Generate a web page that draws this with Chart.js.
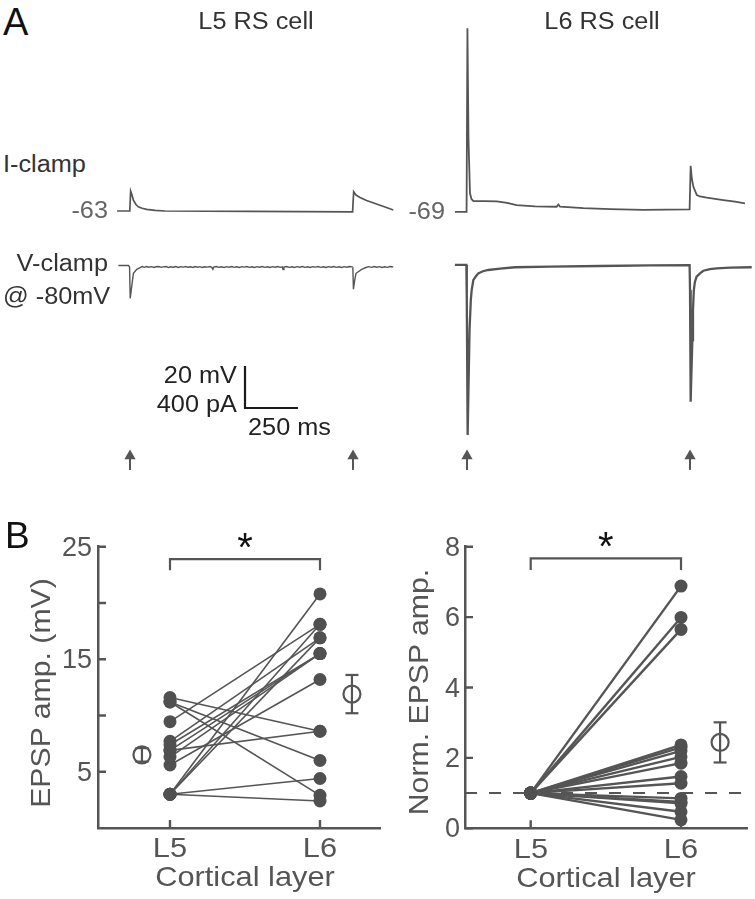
<!DOCTYPE html>
<html>
<head>
<meta charset="utf-8">
<script src="https://cdn.jsdelivr.net/npm/chart.js@4.4.1/dist/chart.umd.min.js"></script>
<style>
  html, body { margin: 0; padding: 0; background: #fff; }
  #fig { position: relative; width: 755px; height: 899px; overflow: hidden; font-family: "Liberation Sans", Arial, sans-serif; }
  #fig canvas { position: absolute; }
  .lbl { position: absolute; white-space: nowrap; line-height: 1; }
</style>
</head>
<body>
<div id="fig">
  <canvas id="chart__l5" width="300" height="480" style="left:100px;top:0px"></canvas>
  <canvas id="chart__l6" width="315" height="480" style="left:440px;top:0px"></canvas>
  <canvas id="chart__amp" width="330" height="345" style="left:60px;top:500px"></canvas>
  <canvas id="chart__norm" width="330" height="345" style="left:425px;top:500px"></canvas>
</div>
<script>
"use strict";

// ---- panel A: example traces, [time ms from 1st stimulus, value] ----
const stimTimes = [0, 1052];
const l5Iclamp = [[-61, -63.0], [-1, -63.0], [3, -53.5], [8, -54.9], [16, -57.8], [28, -59.9], [39, -61.0], [57, -61.7],
  [79, -62.2], [118, -62.7], [165, -63.0], [566, -63.2], [1050, -63.4], [1055, -53.8], [1066, -55.4], [1085, -56.6],
  [1116, -58.0], [1156, -59.4], [1203, -61.1], [1242, -62.5]];
const l5Vclamp = [[-55, 14], [-7, 14], [-2, 0], [1, -298], [6, -219], [16, -60], [32, -22], [47, -5], [58, 4], [66, -3],
  [79, 5], [88, -2], [101, 3], [113, -4], [122, 2], [136, 5], [147, -3], [155, 1], [171, 4], [182, -5], [190, 2],
  [205, -2], [214, 4], [229, -4], [238, 3], [251, -1], [263, 5], [271, -3], [286, 2], [297, -4], [306, 4], [319, -2],
  [331, 3], [340, -5], [352, 2], [365, -1], [377, 4], [386, -3], [391, -22], [395, -1], [408, 4], [419, -3], [430, 2],
  [444, -4], [455, 3], [467, -2], [480, 5], [491, -3], [503, 2], [516, -4], [527, 3], [540, -1], [551, 4], [563, -3],
  [575, 2], [588, -5], [599, 3], [611, -2], [624, 4], [636, -3], [648, 2], [660, -4], [672, 3], [684, -2], [697, 4],
  [709, -3], [718, 1], [722, -24], [726, 0], [739, 4], [751, -3], [764, 2], [776, -4], [788, 3], [801, -2], [813, 5],
  [825, -3], [838, 2], [850, -4], [862, 3], [875, -1], [887, 4], [899, -3], [912, 2], [924, -4], [936, 3], [949, -2],
  [961, 4], [973, -3], [986, 2], [998, -4], [1010, 3], [1023, -2], [1035, 4], [1048, 1], [1051, 0],
  [1054, -212], [1060, -124], [1066, -60], [1093, -22], [1113, -5], [1126, 3], [1139, -3], [1151, 4], [1164, -2],
  [1176, 3], [1189, -4], [1201, 2], [1214, -3], [1226, 4], [1242, 1]];
const l6Iclamp = [[-57, -68.9], [-2, -68.9], [2, 18.5], [7, -34.2], [14, -60.1], [21, -62.8], [30, -63.8], [85, -63.8],
  [140, -63.9], [189, -64.7], [234, -65.7], [321, -66.3], [423, -66.5], [431, -65.4], [439, -66.5], [549, -67.2],
  [675, -67.6], [832, -68.0], [1050, -67.8], [1055, -47.0], [1060, -52.8], [1068, -57.0], [1084, -60.9], [1099, -61.6],
  [1131, -62.2], [1209, -63.3], [1264, -64.1], [1311, -64.9]];
const l6Vclamp = [[-57, 10], [-3, 10], [-1, -324], [3, -1610], [12, -610], [18, -324], [22, -229], [30, -133], [43, -95],
  [53, -70], [75, -50], [100, -38], [156, -26], [226, -12], [392, -5], [627, 0], [863, 5], [1050, 7], [1052, -229],
  [1055, -1292], [1059, -990], [1063, -705], [1066, -419], [1070, -229], [1075, -152], [1083, -102], [1099, -70],
  [1115, -45], [1146, -29], [1178, -22], [1241, -16], [1343, -12]];
const scaleBarMs = 250;
const scaleBarMv = 20;
const scaleBarPa = 400;

// ---- panel B: paired EPSP amplitudes ----
const categories = ["L5", "L6"];
const epspL5 = [3.0, 3.0, 3.0, 3.0, 3.0, 11.6, 11.2, 11.2, 9.45, 7.7, 6.9, 6.3, 5.6, 6.9, 7.4];
const epspL6 = [20.8, 18.1, 16.9, 4.4, 2.4, 8.6, 6.0, 2.9, 18.1, 16.9, 15.5, 15.5, 13.2, 8.6, 15.5];
const epspMean = [6.5, 11.9];
const epspSem = [0.6, 1.7];
const normL5 = [1, 1, 1, 1, 1, 1, 1, 1, 1, 1, 1, 1, 1, 1, 1];
const normL6 = [6.88, 5.99, 5.65, 2.37, 2.3, 2.2, 2.03, 1.85, 1.47, 1.28, 0.85, 0.75, 0.71, 0.47, 0.24];
const normMeanL6 = 2.44;
const normSemL6 = 0.57;
const ampTicks = [5, 10, 15, 20, 25];
const ampTickLabels = ["5", "", "15", "", "25"];
const normTicks = [0, 2, 4, 6, 8];
const normTickLabels = ["0", "2", "4", "6", "8"];

const GREY = "#555555";
const TXT = "#555555";
const fig = document.getElementById("fig");

// pixel scale of the traces (from the scale bar)
const MS_PER_PX = scaleBarMs / 53;
const MV_PER_PX = scaleBarMv / 42;
const PA_PER_PX = scaleBarPa / 42;

function axisRange(refPx, refVal, unitsPerPx, lenPx, downward) {
  if (downward) {
    const max = refVal + refPx * unitsPerPx;
    return { min: max - lenPx * unitsPerPx, max: max };
  }
  const min = refVal - refPx * unitsPerPx;
  return { min: min, max: min + lenPx * unitsPerPx };
}

function addLabel(text, x, y, o) {
  const d = document.createElement("div");
  d.className = "lbl";
  d.textContent = text;
  d.style.fontSize = o.size + "px";
  d.style.color = o.color;
  if (o.weight) d.style.fontWeight = o.weight;
  let tx = "0", ox = "0%";
  if (o.align === "r") { tx = "-100%"; ox = "100%"; }
  if (o.align === "c") { tx = "-50%"; ox = "50%"; }
  let ty = "0", top = y - 0.13 * o.size;
  if (o.mid) { ty = "-50%"; top = y; }
  d.style.left = x + "px";
  d.style.top = top + "px";
  d.style.transformOrigin = ox + " 50%";
  d.style.transform = "translate(" + tx + "," + ty + ")" + (o.rot ? " rotate(" + o.rot + "deg)" : "") + " scaleX(" + (o.sx || 1) + ")";
  fig.appendChild(d);
}

const toXY = (arr) => arr.map((p) => ({ x: p[0], y: p[1] }));
const line = (extra) => Object.assign({ showLine: true, borderColor: GREY, pointRadius: 0, clip: false, tension: 0 }, extra);

function traceChart(cfg) {
  const c = document.getElementById(cfg.id);
  const xr = axisRange(cfg.stimPx, 0, MS_PER_PX, c.width, false);
  const mv = axisRange(cfg.restPx, cfg.restMv, MV_PER_PX, c.height, true);
  const pa = axisRange(cfg.holdPx, 0, PA_PER_PX, c.height, true);
  const datasets = [
    line({ data: toXY(cfg.iclamp), yAxisID: "yMv", borderWidth: cfg.iWidth }),
    line({ data: toXY(cfg.vclamp), yAxisID: "yPa", borderWidth: cfg.vWidth }),
  ];
  stimTimes.forEach((t) => datasets.push(line({
    data: [{ x: t, y: 0.021 }, { x: t, y: 0.05 }], yAxisID: "yMark", borderWidth: 2,
    pointRadius: [0, 6.5], pointStyle: "triangle", pointBackgroundColor: GREY, pointBorderWidth: 0,
  })));
  if (cfg.scaleBar) {
    const t0 = xr.min + cfg.scaleBar[0] * MS_PER_PX;
    const v0 = mv.max - cfg.scaleBar[1] * MV_PER_PX;
    datasets.push(line({
      data: [{ x: t0, y: v0 + scaleBarMv }, { x: t0, y: v0 }, { x: t0 + scaleBarMs, y: v0 }],
      yAxisID: "yMv", borderColor: "#1a1a1a", borderWidth: 2.2,
    }));
  }
  return new Chart(c, {
    type: "scatter",
    data: { datasets },
    options: {
      responsive: false,
      animation: false,
      events: [],
      layout: { autoPadding: false, padding: 0 },
      plugins: { legend: { display: false }, tooltip: { enabled: false } },
      scales: {
        x: { type: "linear", display: false, min: xr.min, max: xr.max },
        yMv: { type: "linear", display: false, min: mv.min, max: mv.max },
        yPa: { type: "linear", display: false, min: pa.min, max: pa.max },
        yMark: { type: "linear", display: false, min: 0, max: 1 },
      },
    },
  });
}

traceChart({ id: "chart__l5", stimPx: 30, restPx: 211, restMv: -63, holdPx: 267,
  iclamp: l5Iclamp, vclamp: l5Vclamp, iWidth: 1.7, vWidth: 1.4, scaleBar: [145, 408] });
traceChart({ id: "chart__l6", stimPx: 27, restPx: 212, restMv: -69, holdPx: 266,
  iclamp: l6Iclamp, vclamp: l6Vclamp, iWidth: 1.8, vWidth: 2.3 });

// inward tick marks on the panel B axes
const inwardTicks = {
  id: "inwardTicks",
  beforeDatasetsDraw(chart, args, opts) {
    const { ctx, chartArea: a, scales } = chart;
    ctx.save();
    ctx.strokeStyle = GREY;
    ctx.lineWidth = 2.4;
    ctx.beginPath();
    scales.x.ticks.forEach((t) => {
      const p = scales.x.getPixelForValue(t.value);
      ctx.moveTo(p, a.bottom); ctx.lineTo(p, a.bottom - opts.len);
    });
    scales.y.ticks.forEach((t) => {
      const p = scales.y.getPixelForValue(t.value);
      ctx.moveTo(a.left, p); ctx.lineTo(a.left + opts.len, p);
    });
    ctx.stroke();
    ctx.restore();
  },
};

const xPos = categories.map((c, i) => i + 1);

function pairChart(cfg) {
  const c = document.getElementById(cfg.id);
  const datasets = [];
  if (cfg.refLine !== undefined) {
    datasets.push(line({ data: [{ x: cfg.xr[0], y: cfg.refLine }, { x: cfg.xr[1], y: cfg.refLine }],
      borderWidth: 2, borderDash: [12, 12] }));
  }
  cfg.l5.forEach((v, i) => datasets.push(line({
    data: [{ x: xPos[0], y: v }, { x: xPos[1], y: cfg.l6[i] }], borderWidth: cfg.lineWidth,
    pointRadius: 6.5, pointBackgroundColor: "#505050", pointBorderWidth: 0,
  })));
  cfg.means.forEach((m) => {
    datasets.push(line({ data: [{ x: m.x, y: m.y - m.sem }, { x: m.x, y: m.y + m.sem }], borderWidth: 2.2,
      pointStyle: "line", pointRadius: 6.5, pointBorderColor: GREY, pointBorderWidth: 2.2 }));
    datasets.push(line({ data: [{ x: m.x, y: m.y }], showLine: false, pointStyle: "circle", pointRadius: 8.5,
      pointBackgroundColor: "rgba(0,0,0,0)", pointBorderColor: GREY, pointBorderWidth: 2.2 }));
  });
  datasets.push(line({ data: [{ x: xPos[0], y: cfg.bracket[0] }, { x: xPos[0], y: cfg.bracket[1] },
    { x: xPos[1], y: cfg.bracket[1] }, { x: xPos[1], y: cfg.bracket[0] }], borderWidth: 2.2 }));

  const axis = (min, max, ticks, fitKey) => ({
    type: "linear", min: min, max: max,
    grid: { display: false, drawTicks: false },
    ticks: { display: false },
    border: { display: true, color: GREY, width: 2.5 },
    afterBuildTicks: (s) => { s.ticks = ticks.map((v) => ({ value: v })); },
    afterFit: (s) => { s[fitKey] = 0; },
  });
  const chart = new Chart(c, {
    type: "scatter",
    data: { datasets },
    plugins: [inwardTicks],
    options: {
      responsive: false,
      animation: false,
      events: [],
      layout: { autoPadding: false, padding: cfg.padding },
      plugins: { legend: { display: false }, tooltip: { enabled: false }, inwardTicks: { len: 8 } },
      scales: {
        x: axis(cfg.xr[0], cfg.xr[1], xPos, "height"),
        y: axis(cfg.yr[0], cfg.yr[1], cfg.ticks, "width"),
      },
    },
  });

  // text from the chart's own scales
  const ox = c.offsetLeft, oy = c.offsetTop;
  const a = chart.chartArea, sx = chart.scales.x, sy = chart.scales.y;
  sy.ticks.forEach((t, i) => {
    if (cfg.tickLabels[i]) addLabel(cfg.tickLabels[i], ox + a.left - cfg.yGap, oy + sy.getPixelForValue(t.value),
      { size: 27, color: TXT, align: "r", mid: true });
  });
  sx.ticks.forEach((t, i) => addLabel(categories[i], ox + sx.getPixelForValue(t.value), oy + a.bottom + 10,
    { size: 28, color: TXT, align: "c", sx: 1.1 }));
  const mid = ox + (sx.getPixelForValue(xPos[0]) + sx.getPixelForValue(xPos[1])) / 2;
  addLabel("Cortical layer", mid, oy + a.bottom + 39, { size: 28, color: TXT, align: "c", sx: 1.1 });
  addLabel("*", mid, oy + sy.getPixelForValue(cfg.bracket[1]) - 27, { size: 40, color: "#111", align: "c" });
  addLabel(cfg.yTitle, cfg.yTitlePos[0], cfg.yTitlePos[1], { size: 28, color: TXT, align: "c", mid: true, rot: -90, sx: 1.08 });
  return chart;
}

pairChart({
  id: "chart__amp", l5: epspL5, l6: epspL6, lineWidth: 1.6,
  xr: [0.52, 2.4], yr: [0, 25], ticks: ampTicks, tickLabels: ampTickLabels, yGap: 6,
  padding: { left: 38, top: 46.7, right: 10, bottom: 17 },
  means: [{ x: xPos[0] - 0.187, y: epspMean[0], sem: epspSem[0] }, { x: xPos[1] + 0.213, y: epspMean[1], sem: epspSem[1] }],
  bracket: [22.9, 23.9], yTitle: "EPSP amp. (mV)", yTitlePos: [41, 693],
});
pairChart({
  id: "chart__norm", l5: normL5, l6: normL6, lineWidth: 2.4, refLine: 1,
  xr: [0.563, 2.439], yr: [0, 8], ticks: normTicks, tickLabels: normTickLabels, yGap: 5,
  padding: { left: 40, top: 46.7, right: 8, bottom: 16.7 },
  means: [{ x: xPos[1] + 0.26, y: normMeanL6, sem: normSemL6 }],
  bracket: [7.34, 7.67], yTitle: "Norm. EPSP amp.", yTitlePos: [419, 692],
});

// panel A text
const A_TXT = { size: 23, color: "#333", sx: 1.1 };
addLabel("A", 3, 8, { size: 38, color: "#111" });
addLabel("B", 5, 522, { size: 37, color: "#111" });
addLabel("L5 RS cell", 256, 13, Object.assign({ align: "c" }, A_TXT));
addLabel("L6 RS cell", 602, 13, Object.assign({ align: "c" }, A_TXT));
addLabel("I-clamp", 3, 156, A_TXT);
addLabel("-63", 108, 202, Object.assign({ align: "r" }, A_TXT, { color: "#666" }));
addLabel("-69", 445, 203, Object.assign({ align: "r" }, A_TXT, { color: "#666" }));
addLabel("V-clamp", 108, 255, Object.assign({ align: "r" }, A_TXT));
addLabel("@ -80mV", 3, 288, A_TXT);
addLabel(scaleBarMv + " mV", 237, 367, Object.assign({ align: "r" }, A_TXT, { color: "#222" }));
addLabel(scaleBarPa + " pA", 237, 396, Object.assign({ align: "r" }, A_TXT, { color: "#222" }));
addLabel(scaleBarMs + " ms", 248, 419, Object.assign({}, A_TXT, { color: "#222" }));
</script>
</body>
</html>
